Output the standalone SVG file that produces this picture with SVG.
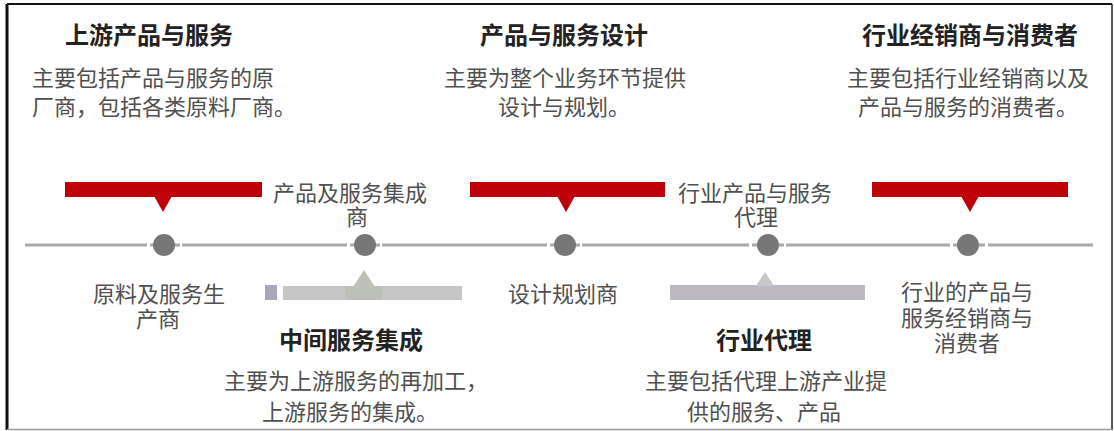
<svg xmlns="http://www.w3.org/2000/svg" width="1114" height="431" viewBox="0 0 1114 431">
<style>
text{font-family:"Noto Sans CJK SC","Liberation Sans",sans-serif;text-anchor:middle}
.t{font-size:24px;font-weight:bold;fill:#222}
.b{font-size:22px;fill:#505050}
.l{font-size:22px;fill:#505050}
.red{fill:#c00008}
.dot{fill:#777}
.ln{stroke:#aaa;stroke-width:3;fill:none}
</style>
<rect x="0" y="0" width="1114" height="431" fill="#fff"/>
<line x1="7" y1="4" x2="1112" y2="4" stroke="#111" stroke-width="2"/>
<line x1="7" y1="4" x2="7" y2="430" stroke="#111" stroke-width="3"/>
<line x1="1112" y1="4" x2="1112" y2="430" stroke="#222" stroke-width="1.5"/>
<line x1="7" y1="429.5" x2="1112" y2="429.5" stroke="#999" stroke-width="1.5"/>

<g id="connectors">
<path class="ln" d="M25 245H147M182 245H347M382 245H547M582 245H749M786 245H950M988 245H1093"/>
<path class="ln" d="M150 245H180M350 245H380M550 245H580M752 245H784M953 245H985"/>
</g>

<g id="top-upstream">
<text class="t" x="149" y="44">上游产品与服务</text>
<text class="b" x="32" y="86" style="text-anchor:start">主要包括产品与服务的原</text>
<text class="b" x="32" y="115" style="text-anchor:start">厂商，包括各类原料厂商。</text>
</g>
<g id="top-design">
<text class="t" x="564" y="44">产品与服务设计</text>
<text class="b" x="565" y="86">主要为整个业务环节提供</text>
<text class="b" x="564" y="115">设计与规划。</text>
</g>
<g id="top-dealer">
<text class="t" x="970" y="44">行业经销商与消费者</text>
<text class="b" x="968" y="86">主要包括行业经销商以及</text>
<text class="b" x="968" y="115">产品与服务的消费者。</text>
</g>

<g id="bar1">
<rect class="red" x="65" y="182" width="197" height="15"/>
<path class="red" d="M154 196L172 196L163 212Z"/>
</g>
<g id="bar2">
<rect class="red" x="470" y="182" width="195" height="15"/>
<path class="red" d="M557 196L575 196L566 212Z"/>
</g>
<g id="bar3">
<rect class="red" x="872" y="182" width="196" height="15"/>
<path class="red" d="M961 196L979 196L970 212Z"/>
</g>

<g id="label-integrator">
<text class="l" x="350" y="201">产品及服务集成</text>
<text class="l" x="357" y="225">商</text>
</g>
<g id="label-agentlabel">
<text class="l" x="755" y="201">行业产品与服务</text>
<text class="l" x="756" y="225">代理</text>
</g>

<g id="node1"><circle class="dot" cx="164" cy="245" r="11"/>
<text class="l" x="159" y="302">原料及服务生</text>
<text class="l" x="158" y="327">产商</text></g>
<g id="node2"><circle class="dot" cx="365" cy="245" r="11"/></g>
<g id="node3"><circle class="dot" cx="565" cy="245" r="11"/>
<text class="l" x="563" y="302">设计规划商</text></g>
<g id="node4"><circle class="dot" cx="768" cy="245" r="11"/></g>
<g id="node5"><circle class="dot" cx="968" cy="245" r="11"/>
<text class="l" x="967" y="300">行业的产品与</text>
<text class="l" x="967" y="326">服务经销商与</text>
<text class="l" x="967" y="351">消费者</text></g>

<g id="gray-bar1">
<rect x="265" y="285" width="12" height="15" fill="#a9a7b5"/>
<rect x="283" y="286" width="179" height="14" fill="#c6c6c6"/>
<rect x="345" y="286" width="37" height="14" fill="#bcc0b9"/>
<path d="M353 287L364 270L375 287Z" fill="#bcc0b9"/>
</g>
<g id="gray-bar2">
<rect x="670" y="285" width="195" height="15" fill="#bdb9c2"/>
<path d="M756 286L765 272L774 286Z" fill="#c8c6cc"/>
</g>

<g id="bottom-middle">
<text class="t" x="351" y="349">中间服务集成</text>
<text class="b" x="356" y="389">主要为上游服务的再加工，</text>
<text class="b" x="350" y="420">上游服务的集成。</text>
</g>
<g id="bottom-agent">
<text class="t" x="764" y="349">行业代理</text>
<text class="b" x="766" y="389">主要包括代理上游产业提</text>
<text class="b" x="764" y="420">供的服务、产品</text>
</g>
</svg>
